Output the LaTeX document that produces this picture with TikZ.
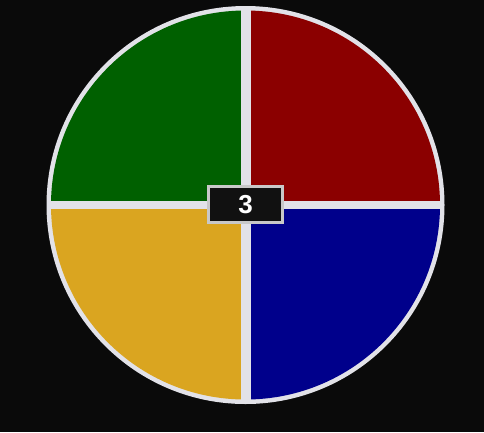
\documentclass[tikz,border=0pt]{standalone}
\usepackage{fontspec}
\setmainfont{Liberation Sans}
\usepackage{xcolor}
\usetikzlibrary{positioning}
\definecolor{bgdark}{RGB}{10,10,10}
\definecolor{rimgray}{RGB}{226,226,232}
\definecolor{boxgray}{RGB}{200,200,200}
\definecolor{boxfill}{RGB}{17,17,17}
\definecolor{padgreen}{RGB}{0,96,0}
\definecolor{padred}{RGB}{139,0,0}
\definecolor{padgold}{RGB}{218,165,32}
\definecolor{padblue}{RGB}{0,0,139}
\begin{document}
\begin{tikzpicture}[
  x=1pt, y=-1pt,
  pad/.style={draw=none},
  counter/.style={draw=boxgray, line width=3pt, fill=boxfill, minimum width=74pt, minimum height=36pt, inner sep=0pt, text=white, font=\fontsize{26}{26}\selectfont\bfseries}
]
  % Background and bounding box (484 x 432)
  \fill[bgdark] (0,0) rectangle (484,432);
  \useasboundingbox (0,0) rectangle (484,432);

  % Outer rim (gray disc, gaps show through)
  \fill[rimgray] (245.5,205) circle[radius=199];

  % Four coloured pads clipped to the inner disc
  \begin{scope}
    \clip (245.5,205) circle[radius=194.5];
    \fill[pad, padgreen] (40,0) rectangle (241,201);
    \fill[pad, padred] (250.5,0) rectangle (450,201);
    \fill[pad, padgold] (40,209) rectangle (241,420);
    \fill[pad, padblue] (250.5,209) rectangle (450,420);
  \end{scope}

  % Centre counter
  \node[counter] (count) at (245.5,204.5) {3};
\end{tikzpicture}
\end{document}
